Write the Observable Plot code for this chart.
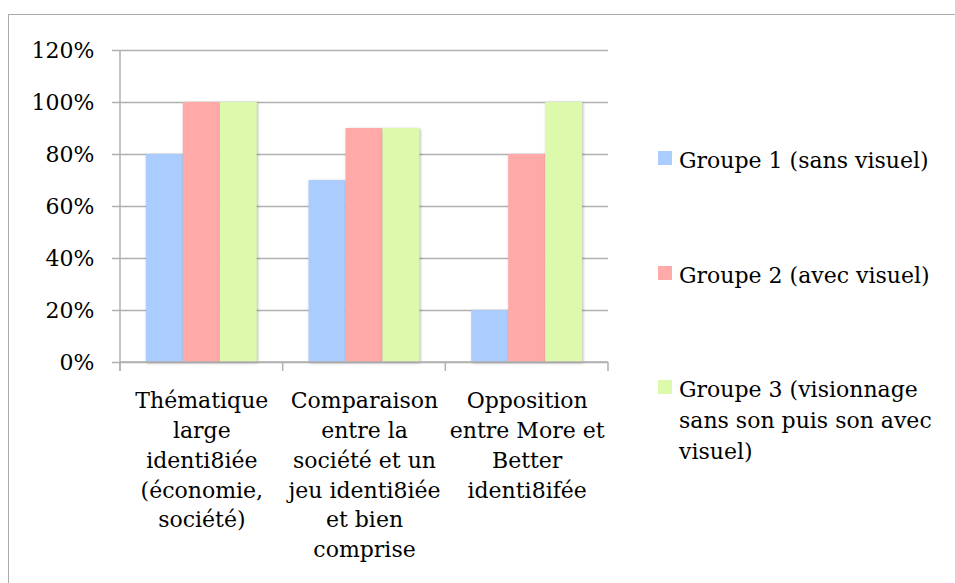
<!DOCTYPE html>
<html><head><meta charset="utf-8">
<script src="https://cdn.jsdelivr.net/npm/d3@7"></script>
<script src="https://cdn.jsdelivr.net/npm/@observablehq/plot@0.6"></script>
<style>
html,body{margin:0;padding:0;background:#fff;overflow:hidden;}
#wrap{position:relative;width:955px;height:583px;overflow:hidden;}
#frame{position:absolute;left:8px;top:14px;width:1000px;height:1000px;border-left:1.5px solid #ababab;border-top:1.5px solid #ababab;}
#chart{position:absolute;left:0;top:0;}
#legend{position:absolute;left:0;top:0;font-family:"DejaVu Serif";font-size:22px;line-height:31px;color:#000;}
.item{position:absolute;left:658px;width:290px;}
.sw{position:absolute;left:0;width:14px;height:14px;top:6px;}
.lab{position:absolute;left:21px;top:0;width:262px;}
</style></head>
<body><div id="wrap"><div id="frame"></div><div id="chart"></div><div id="legend"></div></div>
<script>
const categories = [
  "Thématique\nlarge\nidenti8iée\n(économie,\nsociété)",
  "Comparaison\nentre la\nsociété et un\njeu identi8iée\net bien\ncomprise",
  "Opposition\nentre More et\nBetter\nidenti8ifée"
];
const groups = [
  "Groupe 1 (sans visuel)",
  "Groupe 2 (avec visuel)",
  "Groupe 3 (visionnage sans son puis son avec visuel)"
];
const group1 = [0.8, 0.7, 0.2];
const group2 = [1.0, 0.9, 0.8];
const group3 = [1.0, 0.9, 1.0];
const colors = ["#aaccff", "#ffaaa8", "#ddf9ab"];
const yTicks = [0, 0.2, 0.4, 0.6, 0.8, 1.0, 1.2];

const series = [group1, group2, group3];
const rows = categories.flatMap((c, i) => groups.map((g, j) => ({category: c, group: g, value: series[j][i]})));
const grid = "#b0b0b0";

const chart = Plot.plot({
  width: 955, height: 583,
  marginLeft: 120, marginRight: 347, marginTop: 50, marginBottom: 221,
  style: {fontFamily: "DejaVu Serif", fontSize: "22px", color: "#000", background: "transparent", overflow: "visible"},
  fx: {domain: categories, padding: 0, label: null, round: false},
  x: {domain: groups, paddingInner: 0, paddingOuter: 0.7, axis: null, round: false},
  y: {domain: [0, 1.2], label: null},
  color: {domain: groups, range: colors},
  marks: [
    Plot.ruleY(yTicks, {stroke: grid, strokeWidth: 1.5}),
    Plot.barY(rows, {fx: "category", x: "group", y: "value", fill: "group"}),
    Plot.axisY({ticks: yTicks, tickFormat: d => Math.round(d * 100) + "%", tickSize: 8, tickPadding: 18, stroke: grid, strokeWidth: 1.5, fill: "#000", label: null}),
    Plot.axisFx({anchor: "bottom", tickSize: 0, tickPadding: 24, lineHeight: 1.36, fill: "#000", label: null})
  ]
});
document.getElementById("chart").appendChild(chart);

// axis lines and category boundary ticks from the library's scales
const fx = chart.scale("fx"), y = chart.scale("y");
const bw = fx.bandwidth;
const bounds = categories.map(c => fx.apply(c)).concat([fx.apply(categories[categories.length - 1]) + bw]);
const svg = d3.select(chart);
svg.selectAll('g[aria-label="bar"] rect').style("filter", "drop-shadow(1.5px 1.5px 1.5px rgba(0,0,0,0.28))");
const g = svg.append("g").attr("stroke", grid).attr("stroke-width", 1.5);
g.append("line").attr("x1", bounds[0]).attr("x2", bounds[0]).attr("y1", y.apply(1.2)).attr("y2", y.apply(0) + 9);
g.append("line").attr("x1", bounds[0]).attr("x2", bounds[bounds.length - 1]).attr("y1", y.apply(0)).attr("y2", y.apply(0));
bounds.forEach(b => g.append("line").attr("x1", b).attr("x2", b).attr("y1", y.apply(0)).attr("y2", y.apply(0) + 9));

// legend
const legendTops = [145, 260, 374];
const legend = document.getElementById("legend");
groups.forEach((name, i) => {
  const item = document.createElement("div");
  item.className = "item";
  item.style.top = legendTops[i] + "px";
  item.innerHTML = `<div class="sw" style="background:${colors[i]}"></div><div class="lab"></div>`;
  item.querySelector(".lab").textContent = name;
  legend.appendChild(item);
});
</script>
</body></html>
